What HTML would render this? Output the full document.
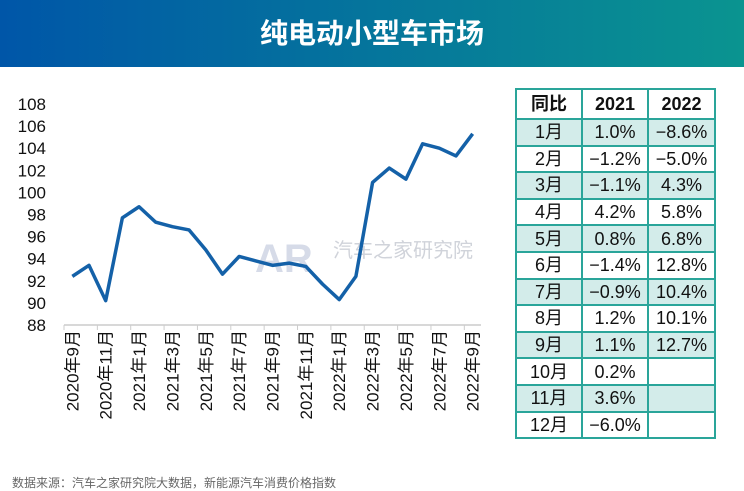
<!DOCTYPE html>
<html><head><meta charset="utf-8"><style>
body{margin:0;width:744px;height:481px;overflow:hidden;background:#fff;font-family:"Liberation Sans","Noto Sans CJK SC",sans-serif;position:relative}
#hdr{position:absolute;left:0;top:0;width:744px;height:67px;background:linear-gradient(90deg,#0056a8,#0a9490);color:#fff;font-size:28px;font-weight:bold;text-align:center;line-height:67px}
table{position:absolute;left:515px;top:88px;border-collapse:collapse;font-size:18px;color:#111;table-layout:fixed}
td{border:2px solid #2aa59a;height:24.6px;padding:0;text-align:center;line-height:18px;box-sizing:border-box}
tr{height:26.6px}
tr.h{height:30px}
tr.s td{background:#d3ecea}
#foot{position:absolute;left:12px;top:474px;font-size:12px;color:#666}
</style></head><body>
<div id="hdr">纯电动小型车市场</div>
<svg id="chart" width="744" height="481" style="position:absolute;left:0;top:0"></svg>
<table>
<tr class="h"><td style="width:66px;font-weight:bold">同比</td><td style="width:66px;font-weight:bold">2021</td><td style="width:67px;font-weight:bold">2022</td></tr>
<tr class="s"><td>1月</td><td>1.0%</td><td>−8.6%</td></tr>
<tr><td>2月</td><td>−1.2%</td><td>−5.0%</td></tr>
<tr class="s"><td>3月</td><td>−1.1%</td><td>4.3%</td></tr>
<tr><td>4月</td><td>4.2%</td><td>5.8%</td></tr>
<tr class="s"><td>5月</td><td>0.8%</td><td>6.8%</td></tr>
<tr><td>6月</td><td>−1.4%</td><td>12.8%</td></tr>
<tr class="s"><td>7月</td><td>−0.9%</td><td>10.4%</td></tr>
<tr><td>8月</td><td>1.2%</td><td>10.1%</td></tr>
<tr class="s"><td>9月</td><td>1.1%</td><td>12.7%</td></tr>
<tr><td>10月</td><td>0.2%</td><td></td></tr>
<tr class="s"><td>11月</td><td>3.6%</td><td></td></tr>
<tr><td>12月</td><td>−6.0%</td><td></td></tr>
</table>
<div id="foot">数据来源：汽车之家研究院大数据，新能源汽车消费价格指数</div>
<script>
const labels=["2020年9月","2020年11月","2021年1月","2021年3月","2021年5月","2021年7月","2021年9月","2021年11月","2022年1月","2022年3月","2022年5月","2022年7月","2022年9月"];
const values=[92.4,93.4,90.2,97.7,98.7,97.3,96.9,96.6,94.8,92.6,94.2,93.8,93.4,93.6,93.3,91.7,90.3,92.4,100.9,102.2,101.2,104.4,104.0,103.3,105.3];
const yTicks=[88,90,92,94,96,98,100,102,104,106,108];
const svg=document.getElementById('chart');const NS='http://www.w3.org/2000/svg';
const x0=64,x1=481,n=values.length,step=(x1-x0)/n;
const xs=i=>x0+step*(i+0.5);
const ys=v=>325-(v-88)*(221/20);
function mk(t,a){const e=document.createElementNS(NS,t);for(const k in a)e.setAttribute(k,a[k]);svg.appendChild(e);return e;}
yTicks.forEach(v=>{const t=mk('text',{x:46,y:ys(v)+6,'text-anchor':'end','font-size':17,fill:'#111'});t.textContent=v;

});
const ax=mk('line',{x1:x0,x2:x1,y1:325,y2:325,stroke:'#ccc','stroke-width':1.5});


for(let i=0;i<=n;i+=2){const tk=mk('line',{x1:x0+step*i,x2:x0+step*i,y1:325,y2:330,stroke:'#ccc'});

}
labels.forEach((l,k)=>{const x=xs(k*2)+6;const t=mk('text',{x:x,y:330,'text-anchor':'end','font-size':17,fill:'#111',transform:`rotate(-90 ${x} 330)`});t.textContent=l;

});
const wm=mk('text',{x:255,y:272,'font-size':40,fill:'#d6dbe8','font-weight':'bold'});wm.textContent='AR';


const wm2=mk('text',{x:333,y:257,'font-size':20,fill:'#d0d3da'});wm2.textContent='汽车之家研究院';


const p=mk('polyline',{points:values.map((v,i)=>xs(i)+','+ys(v)).join(' '),fill:'none',stroke:'#1461a8','stroke-width':3.5,'stroke-linejoin':'round'});


</script>
</body></html>
